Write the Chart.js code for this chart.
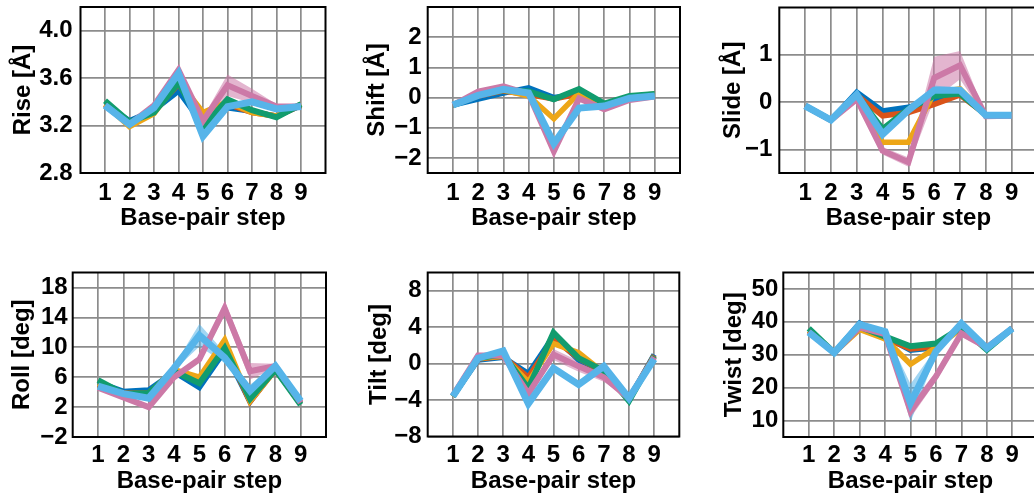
<!DOCTYPE html>
<html>
<head>
<meta charset="utf-8">
<script src="https://cdn.jsdelivr.net/npm/chart.js@4.4.1/dist/chart.umd.min.js"></script>
<style>
  html, body { margin: 0; padding: 0; background: #fff; width: 1034px; height: 498px; overflow: hidden; position: relative; }
  .panel { position: absolute; }
</style>
</head>
<body>
<script>
// Base-pair steps along the x axis
const steps = [1, 2, 3, 4, 5, 6, 7, 8, 9];
const stepLabels = ['1', '2', '3', '4', '5', '6', '7', '8', '9'];

// Rise [Å]
const riseBlue      = [3.38, 3.24, 3.33, 3.49, 3.21, 3.35, 3.32, 3.28, 3.37];
const riseVermilion = [3.38, 3.22, 3.32, 3.55, 3.25, 3.38, 3.31, 3.28, 3.37];
const riseOrange    = [3.38, 3.19, 3.30, 3.58, 3.31, 3.40, 3.31, 3.28, 3.38];
const riseGreen     = [3.41, 3.23, 3.31, 3.56, 3.19, 3.42, 3.33, 3.27, 3.38];
const risePink      = [3.37, 3.21, 3.37, 3.67, 3.24, 3.54, 3.45, 3.36, 3.36];
const riseSky       = [3.37, 3.21, 3.35, 3.64, 3.11, 3.36, 3.40, 3.34, 3.36];
const risePinkSpread = [0.01, 0.01, 0.02, 0.03, 0.03, 0.09, 0.06, 0.02, 0.01];
const riseTicks = [2.8, 3.2, 3.6, 4.0];
const riseTickLabels = ['2.8', '3.2', '3.6', '4.0'];

// Shift [Å]
const shiftBlue      = [-0.25, -0.05, 0.15, 0.32, 0.00, 0.10, -0.22, 0.02, 0.10];
const shiftVermilion = [-0.25, 0.05, 0.22, 0.10, -0.05, 0.12, -0.25, 0.02, 0.10];
const shiftOrange    = [-0.25, 0.08, 0.25, 0.05, -0.70, 0.15, -0.25, 0.03, 0.12];
const shiftGreen     = [-0.25, 0.08, 0.25, 0.20, -0.06, 0.28, -0.20, 0.05, 0.12];
const shiftPink      = [-0.25, 0.20, 0.37, 0.12, -1.78, -0.03, -0.39, -0.08, 0.03];
const shiftSky       = [-0.25, 0.07, 0.27, 0.15, -1.52, -0.35, -0.28, -0.02, 0.05];
const shiftTicks = [-2, -1, 0, 1, 2];
const shiftTickLabels = ['−2', '−1', '0', '1', '2'];

// Slide [Å]
const slideBlue      = [-0.08, -0.38, 0.21, -0.19, -0.11, 0.06, 0.20, -0.27, -0.28];
const slideVermilion = [-0.08, -0.38, 0.15, -0.29, -0.22, -0.05, 0.15, -0.27, -0.28];
const slideOrange    = [-0.08, -0.38, 0.12, -0.85, -0.85, 0.20, 0.28, -0.27, -0.28];
const slideGreen     = [-0.08, -0.38, 0.15, -0.57, -0.15, 0.13, 0.18, -0.27, -0.28];
const slidePink      = [-0.08, -0.38, 0.06, -1.03, -1.27, 0.51, 0.78, -0.30, -0.29];
const slideSky       = [-0.08, -0.38, 0.16, -0.68, -0.17, 0.25, 0.25, -0.28, -0.28];
const slidePinkSpread = [0.01, 0.01, 0.02, 0.08, 0.10, 0.45, 0.30, 0.03, 0.01];
const slideSkySpread  = [0.01, 0.01, 0.02, 0.03, 0.04, 0.10, 0.05, 0.01, 0.01];
const slideTicks = [-1, 0, 1];
const slideTickLabels = ['−1', '0', '1'];

// Roll [deg]
const rollBlue      = [5.3, 4.1, 4.3, 6.7, 4.6, 9.5, 2.7, 7.2, 2.5];
const rollVermilion = [5.0, 3.9, 3.9, 6.8, 5.5, 10.0, 2.7, 7.0, 2.6];
const rollOrange    = [5.2, 3.8, 3.8, 7.0, 6.0, 11.0, 2.8, 7.0, 2.4];
const rollGreen     = [5.6, 3.8, 3.9, 6.8, 5.2, 9.9, 3.1, 7.0, 2.3];
const rollPink      = [4.6, 3.3, 2.0, 6.0, 8.4, 15.2, 6.8, 7.5, 2.6];
const rollSky       = [4.8, 3.8, 3.2, 7.2, 11.6, 8.6, 4.2, 7.5, 2.8];
const rollPinkSpread = [0.1, 0.1, 0.1, 0.2, 0.4, 1.0, 1.1, 0.3, 0.1];
const rollSkySpread  = [0.1, 0.1, 0.2, 0.3, 1.5, 0.7, 0.8, 0.2, 0.1];
const rollTicks = [-2, 2, 6, 10, 14, 18];
const rollTickLabels = ['−2', '2', '6', '10', '14', '18'];

// Tilt [deg]
const tiltBlue      = [-3.6, 0.4, 0.7, -1.1, 3.0, 0.4, -0.9, -3.9, 1.0];
const tiltVermilion = [-3.6, 0.5, 0.8, -1.5, 2.7, 0.6, -1.0, -3.9, 0.9];
const tiltOrange    = [-3.6, 0.6, 0.8, -2.0, 2.2, 1.2, -1.0, -3.9, 0.8];
const tiltGreen     = [-3.6, 0.6, 1.0, -2.7, 3.4, 0.6, -0.8, -4.1, 0.8];
const tiltPink      = [-3.5, 0.9, 0.9, -3.3, 1.0, -0.3, -1.5, -3.8, 0.7];
const tiltSky       = [-3.6, 0.6, 1.4, -4.4, -0.5, -2.3, -0.3, -3.8, 0.5];
const tiltPinkSpread = [0.1, 0.1, 0.1, 0.3, 0.6, 0.6, 0.5, 0.1, 0.1];
const tiltTicks = [-8, -4, 0, 4, 8];
const tiltTickLabels = ['−8', '−4', '0', '4', '8'];

// Twist [deg]
const twistBlue      = [37.3, 30.6, 39.6, 35.5, 31.4, 32.2, 38.8, 32.0, 38.0];
const twistVermilion = [37.3, 30.6, 38.5, 35.0, 31.8, 32.5, 38.5, 32.0, 38.0];
const twistOrange    = [37.3, 30.6, 37.7, 34.8, 27.1, 32.2, 38.0, 32.0, 38.0];
const twistGreen     = [38.0, 30.6, 38.5, 35.5, 32.6, 33.4, 38.3, 31.5, 38.0];
const twistPink      = [37.0, 30.6, 38.3, 36.3, 12.8, 23.4, 36.5, 32.2, 38.0];
const twistSky       = [36.8, 30.6, 39.2, 37.0, 15.3, 31.0, 39.5, 32.0, 38.0];
const twistPinkSpread = [0.2, 0.2, 0.3, 0.5, 2.0, 1.5, 1.0, 0.3, 0.2];
const twistSkySpread  = [0.2, 0.2, 0.3, 0.4, 5.8, 1.0, 0.4, 0.2, 0.2];
const twistTicks = [10, 20, 30, 40, 50];
const twistTickLabels = ['10', '20', '30', '40', '50'];

// Series styling (same order in every panel)
const lineColors = ['#0072BD', '#D95319', '#EDA617', '#119C6E', '#CC79A7', '#56B4E9'];
const bandColors = ['rgba(0,114,189,0.45)', 'rgba(217,83,25,0.45)', 'rgba(237,166,23,0.45)',
                    'rgba(17,156,110,0.45)', 'rgba(204,121,167,0.55)', 'rgba(86,180,233,0.55)'];
const lineWidths = [5.5, 5.5, 5.5, 6, 6, 7];
const PINK = 4, SKY = 5;

const panels = [
  { title: 'Rise [Å]', min: 2.8, max: 4.2, ticks: riseTicks, labels: riseTickLabels,
    series: [riseBlue, riseVermilion, riseOrange, riseGreen, risePink, riseSky],
    bands: [[PINK, risePinkSpread]] },
  { title: 'Shift [Å]', min: -2.5, max: 3, ticks: shiftTicks, labels: shiftTickLabels,
    series: [shiftBlue, shiftVermilion, shiftOrange, shiftGreen, shiftPink, shiftSky],
    bands: [] },
  { title: 'Slide [Å]', min: -1.5, max: 2, ticks: slideTicks, labels: slideTickLabels,
    series: [slideBlue, slideVermilion, slideOrange, slideGreen, slidePink, slideSky],
    bands: [[PINK, slidePinkSpread], [SKY, slideSkySpread]] },
  { title: 'Roll [deg]', min: -2, max: 20, ticks: rollTicks, labels: rollTickLabels,
    series: [rollBlue, rollVermilion, rollOrange, rollGreen, rollPink, rollSky],
    bands: [[PINK, rollPinkSpread], [SKY, rollSkySpread]] },
  { title: 'Tilt [deg]', min: -8, max: 10, ticks: tiltTicks, labels: tiltTickLabels,
    series: [tiltBlue, tiltVermilion, tiltOrange, tiltGreen, tiltPink, tiltSky],
    bands: [[PINK, tiltPinkSpread]] },
  { title: 'Twist [deg]', min: 5, max: 55, ticks: twistTicks, labels: twistTickLabels,
    series: [twistBlue, twistVermilion, twistOrange, twistGreen, twistPink, twistSky],
    bands: [[PINK, twistPinkSpread], [SKY, twistSkySpread]] }
];

// Panel placement: canvas box on the page and plot-area edges inside it
const frames = [
  { x: 0,   y: 0,   w: 345, h: 250, L: 80.5, T: 7,    R: 325.5, B: 173,   yTitleX: 23,   yTickPad: 8, xTickPad: 5.5, xTitleY: 218 },
  { x: 345, y: 0,   w: 345, h: 250, L: 82.7, T: 7,    R: 335,   B: 173,   yTitleX: 32.5, yTickPad: 6, xTickPad: 5.5, xTitleY: 218 },
  { x: 690, y: 0,   w: 360, h: 250, L: 89.3, T: 7.5,  R: 347.5, B: 173,   yTitleX: 43.3, yTickPad: 7, xTickPad: 5.5, xTitleY: 218 },
  { x: 0,   y: 250, w: 345, h: 248, L: 72.7, T: 22.5, R: 326,   B: 187,   yTitleX: 22.5, yTickPad: 5, xTickPad: 4,   xTitleY: 231 },
  { x: 345, y: 250, w: 345, h: 248, L: 82.7, T: 22.5, R: 334.3, B: 186.5, yTitleX: 34,   yTickPad: 6, xTickPad: 4,   xTitleY: 231 },
  { x: 690, y: 250, w: 360, h: 248, L: 93.3, T: 22.5, R: 347.7, B: 187,   yTitleX: 44,   yTickPad: 5, xTickPad: 4,   xTitleY: 231 }
];

const FAMILY = '"Liberation Sans", Arial, Helvetica, sans-serif';
const tickFont = { family: FAMILY, size: 24, weight: 'bold', lineHeight: 1.2 };
const titleFont = { family: FAMILY, size: 24, weight: 'bold', lineHeight: 1.2 };
const gridColor = '#8c8c8c';

// Black frame round each plot area
const boxPlugin = {
  id: 'plotBox',
  afterDraw(chart) {
    const a = chart.chartArea, ctx = chart.ctx;
    ctx.save();
    ctx.strokeStyle = '#000';
    ctx.lineWidth = 2;
    ctx.strokeRect(a.left, a.top, a.right - a.left, a.bottom - a.top);
    ctx.restore();
  }
};

function buildPanel(p, f) {
  const wrap = document.createElement('div');
  wrap.className = 'panel';
  wrap.style.left = f.x + 'px';
  wrap.style.top = f.y + 'px';
  wrap.style.width = f.w + 'px';
  wrap.style.height = f.h + 'px';
  const cv = document.createElement('canvas');
  cv.width = f.w; cv.height = f.h;
  cv.style.width = f.w + 'px'; cv.style.height = f.h + 'px';
  wrap.appendChild(cv);
  document.body.appendChild(wrap);

  const datasets = [];
  p.bands.forEach(([si, spread]) => {
    const mean = p.series[si];
    datasets.push({
      data: steps.map((s, i) => ({ x: s, y: mean[i] + spread[i] })),
      borderColor: 'rgba(0,0,0,0)', borderWidth: 0, pointRadius: 0,
      backgroundColor: bandColors[si], fill: '+1', tension: 0, order: 30 - si
    });
    datasets.push({
      data: steps.map((s, i) => ({ x: s, y: mean[i] - spread[i] })),
      borderColor: 'rgba(0,0,0,0)', borderWidth: 0, pointRadius: 0,
      fill: false, tension: 0, order: 30 - si
    });
  });
  p.series.forEach((vals, si) => {
    datasets.push({
      data: steps.map((s, i) => ({ x: s, y: vals[i] })),
      borderColor: lineColors[si], borderWidth: lineWidths[si],
      borderJoinStyle: 'miter', borderCapStyle: 'butt',
      pointRadius: 0, fill: false, tension: 0, order: 10 - si
    });
  });

  const lh = titleFont.size * titleFont.lineHeight / 2;

  new Chart(cv, {
    type: 'line',
    data: { datasets },
    plugins: [boxPlugin],
    options: {
      responsive: false,
      animation: false,
      devicePixelRatio: 1,
      events: [],
      layout: { padding: { left: 0, top: f.T, right: f.w - f.R, bottom: 0 } },
      plugins: { legend: { display: false }, tooltip: { enabled: false } },
      scales: {
        x: {
          type: 'linear', min: 0, max: 10,
          grid: { color: gridColor, lineWidth: 1.7, drawTicks: false },
          border: { display: false },
          afterBuildTicks: s => { s.ticks = steps.map(v => ({ value: v })); },
          afterFit: s => { s.height = f.h - f.B; s.paddingLeft = 0; s.paddingRight = 0; },
          ticks: {
            font: tickFont, color: '#000', padding: f.xTickPad,
            autoSkip: false, maxRotation: 0, minRotation: 0,
            callback: v => { const i = steps.indexOf(v); return i >= 0 ? stepLabels[i] : ''; }
          },
          title: {
            display: true, text: 'Base-pair step', color: '#000', font: titleFont,
            padding: { top: 0, bottom: f.h - f.xTitleY - lh }
          }
        },
        y: {
          type: 'linear', min: p.min, max: p.max,
          grid: { color: gridColor, lineWidth: 1.7, drawTicks: false },
          border: { display: false },
          afterBuildTicks: s => { s.ticks = p.ticks.map(v => ({ value: v })); },
          afterFit: s => { s.width = f.L; s.paddingTop = 0; s.paddingBottom = 0; },
          ticks: {
            font: tickFont, color: '#000', padding: f.yTickPad, autoSkip: false,
            callback: v => { const i = p.ticks.indexOf(v); return i >= 0 ? p.labels[i] : ''; }
          },
          title: {
            display: true, text: p.title, color: '#000', font: titleFont,
            padding: { top: f.yTitleX - lh, bottom: 0 }
          }
        }
      }
    }
  });
}

panels.forEach((p, i) => buildPanel(p, frames[i]));
</script>
</body>
</html>
